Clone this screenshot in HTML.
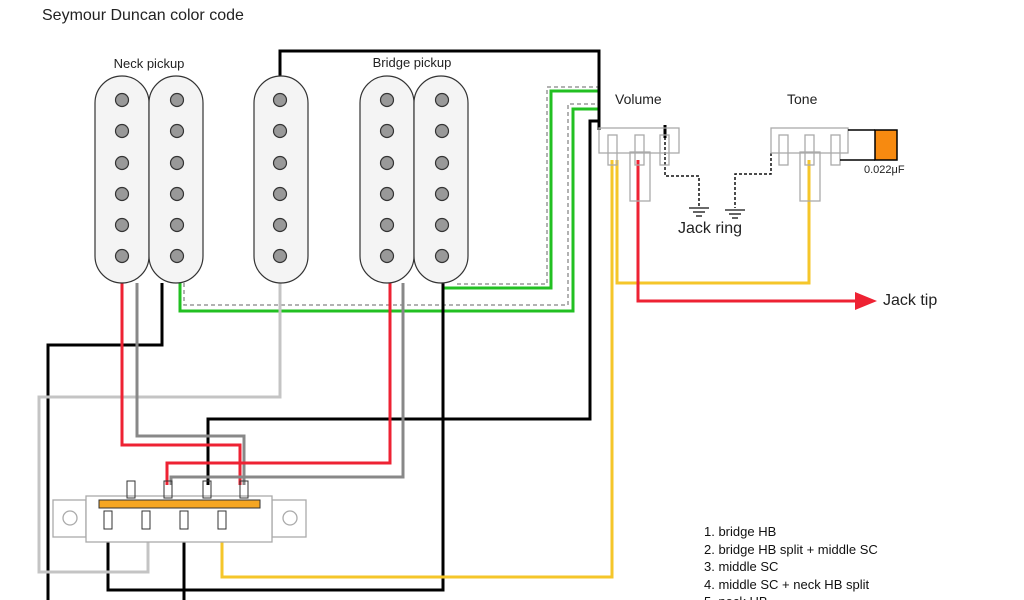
<!DOCTYPE html>
<html><head><meta charset="utf-8"><style>
html,body{margin:0;padding:0;background:#fff;}
svg{display:block;font-family:"Liberation Sans","DejaVu Sans",sans-serif;}
</style></head><body>
<svg width="1024" height="600" viewBox="0 0 1024 600" xmlns="http://www.w3.org/2000/svg">
<defs>
<g id="p"><circle cx="0" cy="100" r="6.5"/><circle cx="0" cy="131" r="6.5"/><circle cx="0" cy="163" r="6.5"/><circle cx="0" cy="194" r="6.5"/><circle cx="0" cy="225" r="6.5"/><circle cx="0" cy="256" r="6.5"/></g>
</defs>
<rect width="1024" height="600" fill="#fff"/>
<text x="42" y="20" font-size="16" fill="#222">Seymour Duncan color code</text>
<text x="149" y="68" font-size="13" text-anchor="middle" fill="#222">Neck pickup</text>
<text x="412" y="67" font-size="13" text-anchor="middle" fill="#222">Bridge pickup</text>
<text x="615" y="104" font-size="14" fill="#222">Volume</text>
<text x="787" y="104" font-size="14" fill="#222">Tone</text>
<text x="864" y="173" font-size="11" fill="#222">0.022μF</text>
<text x="678" y="233" font-size="16" fill="#222">Jack ring</text>
<text x="883" y="305" font-size="16" fill="#222">Jack tip</text>
<g font-size="13" fill="#111">
<text x="704" y="536">1. bridge HB</text>
<text x="704" y="554">2. bridge HB split + middle SC</text>
<text x="704" y="571">3. middle SC</text>
<text x="704" y="589">4. middle SC + neck HB split</text>
<text x="704" y="606">5. neck HB</text>
</g>

<g fill="none" stroke-linejoin="miter">
<polyline points="184,283 184,305 568,305 568,104 600,104" stroke="#999" stroke-width="1.5" stroke-dasharray="4,3"/>
<polyline points="457,284 547,284 547,87 600,87" stroke="#999" stroke-width="1.5" stroke-dasharray="4,3"/>
<polyline points="180,283 180,311 573,311 573,109 600,109" stroke="#22c022" stroke-width="3"/>
<polyline points="443,283 443,288 551,288 551,91 600,91" stroke="#22c022" stroke-width="3"/>
<polyline points="280,76 280,51 599,51 599,130" stroke="#000" stroke-width="3"/>
<polyline points="208,485 208,419 590,419 590,121 600,121" stroke="#000" stroke-width="3"/>
<polyline points="162,283 162,345 48,345 48,600" stroke="#000" stroke-width="3"/>
<polyline points="443,283 443,590 108,590 108,525" stroke="#000" stroke-width="3"/>
<polyline points="184,525 184,600" stroke="#000" stroke-width="3"/>
<polyline points="280,283 280,397 39,397 39,572 148,572 148,525" stroke="#c4c4c4" stroke-width="3"/>
<polyline points="122,283 122,445 240,445 240,485" stroke="#ee2233" stroke-width="3"/>
<polyline points="137,283 137,436 244,436 244,485" stroke="#888" stroke-width="3"/>
<polyline points="390,283 390,463 167,463 167,485" stroke="#ee2233" stroke-width="3"/>
<polyline points="403,283 403,477 171,477 171,485" stroke="#888" stroke-width="3"/>
<polyline points="222,522 222,577 612,577 612,160" stroke="#f5c62a" stroke-width="3"/>
<polyline points="617,160 617,283 809,283 809,160" stroke="#f5c62a" stroke-width="3"/>
<polyline points="638,160 638,301 858,301" stroke="#ee2233" stroke-width="3"/>
<polygon points="855,292 877,301 855,310" fill="#ee2233"/>
<polyline points="665,137 665,176 699,176 699,206" stroke="#111" stroke-width="1.5" stroke-dasharray="3,2"/>
<line x1="665" y1="125" x2="665" y2="138" stroke="#000" stroke-width="3"/>
<polyline points="771,153 771,174 735,174 735,208" stroke="#111" stroke-width="1.5" stroke-dasharray="3,2"/>
</g>
<g stroke="#111" stroke-width="1.3">
<line x1="689" y1="208" x2="709" y2="208"/><line x1="693" y1="212" x2="705" y2="212"/><line x1="696" y1="216" x2="702" y2="216"/>
<line x1="725" y1="210" x2="745" y2="210"/><line x1="729" y1="214" x2="741" y2="214"/><line x1="732" y1="218" x2="738" y2="218"/>
</g>

<g fill="none" stroke="#aaa" stroke-width="1.3">
<rect x="599" y="128" width="80" height="25"/>
<rect x="608" y="135" width="9" height="30"/>
<rect x="635" y="135" width="9" height="30"/>
<rect x="630" y="152" width="20" height="49"/>
<rect x="660" y="135" width="9" height="30"/>
<rect x="771" y="128" width="77" height="25"/>
<rect x="779" y="135" width="9" height="30"/>
<rect x="805" y="135" width="9" height="30"/>
<rect x="800" y="152" width="20" height="49"/>
<rect x="831" y="135" width="9" height="30"/>
</g>
<polyline points="848,130 875,130" stroke="#000" stroke-width="1.5"/>
<polyline points="840,160 875,160" stroke="#000" stroke-width="1.5"/>
<rect x="875" y="130" width="22" height="30" fill="#f78a10" stroke="#000" stroke-width="1.5"/>

<g fill="#fff" stroke="#aaa" stroke-width="1.3">
<rect x="53" y="500" width="33" height="37"/>
<rect x="272" y="500" width="34" height="37"/>
<rect x="86" y="496" width="186" height="46"/>
<circle cx="70" cy="518" r="7"/>
<circle cx="290" cy="518" r="7"/>
</g>
<rect x="99" y="500" width="161" height="8" fill="#f5a623" stroke="#333" stroke-width="1"/>
<g fill="none" stroke="#333" stroke-width="1">
<rect x="127" y="481" width="8" height="17"/>
<rect x="164" y="481" width="8" height="17"/>
<rect x="203" y="481" width="8" height="17"/>
<rect x="240" y="481" width="8" height="17"/>
<rect x="104" y="511" width="8" height="18"/>
<rect x="142" y="511" width="8" height="18"/>
<rect x="180" y="511" width="8" height="18"/>
<rect x="218" y="511" width="8" height="18"/>
</g>

<g fill="#f4f4f4" stroke="#333" stroke-width="1.2">
<rect x="95" y="76" width="54" height="207" rx="27"/>
<rect x="149" y="76" width="54" height="207" rx="27"/>
<rect x="254" y="76" width="54" height="207" rx="27"/>
<rect x="360" y="76" width="54" height="207" rx="27"/>
<rect x="414" y="76" width="54" height="207" rx="27"/>
</g>
<g fill="#999" stroke="#333" stroke-width="1.2">
<use href="#p" x="122"/><use href="#p" x="177"/><use href="#p" x="280"/><use href="#p" x="387"/><use href="#p" x="442"/>
</g>
</svg>
</body></html>
